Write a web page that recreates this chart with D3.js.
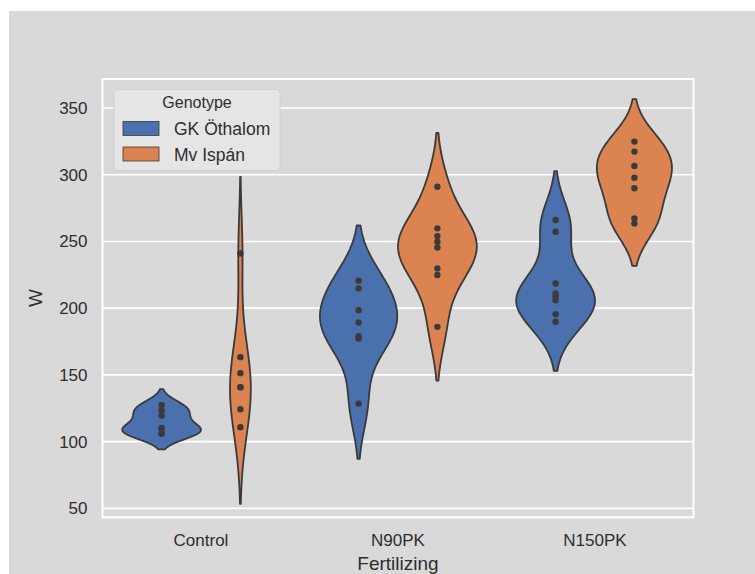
<!DOCTYPE html>
<html><head><meta charset="utf-8">
<script src="https://cdn.jsdelivr.net/npm/d3@7"></script>
<style>html,body{margin:0;padding:0;background:#fff;} svg{display:block;font-family:"Liberation Sans",Arial,sans-serif;}</style>
</head><body><svg id="chart" width="755" height="574"></svg>
<script>
// ---- data ----
const categories = ["Control", "N90PK", "N150PK"];
const genotypes = ["GK Öthalom", "Mv Ispán"];
const gkOthalom = [
  [106, 106, 110, 110, 119.5, 123.5, 127.5],
  [128.5, 177.3, 179, 189.3, 198.5, 214.8, 220.5],
  [189.8, 195.5, 206, 208.5, 211, 218.5, 257.3, 266]
];
const mvIspan = [
  [110.8, 124.3, 140.8, 140.8, 151.3, 163.3, 241],
  [186, 224.8, 229.8, 245.5, 249.8, 254, 259.8, 291],
  [263.5, 267.3, 289.8, 297.8, 306.5, 317.3, 324.8]
];
const yTicks = [50, 100, 150, 200, 250, 300, 350];
const yLimits = [43.3, 371.7];
const palette = ["#4a70ad", "#db8451"];
const xLabel = "Fertilizing", yLabel = "W", legendTitle = "Genotype";

// ---- layout ----
const svg = d3.select("#chart");
const plot = {left: 102.5, right: 693.5, top: 79, bottom: 517.3};
const bg = "#d9d9d9", ink = "#2e2e2e", edge = "#3a3a3a";

svg.append("rect").attr("x", 9).attr("y", 11).attr("width", 755 - 9).attr("height", 574 - 11).attr("fill", bg);

const x = d3.scaleBand().domain(categories).range([plot.left, plot.right]).padding(0);
const hue = d3.scaleBand().domain(genotypes).range([0.1 * x.bandwidth(), 0.9 * x.bandwidth()]);
const y = d3.scaleLinear().domain(yLimits).range([plot.bottom, plot.top]);

// grid
svg.append("g").selectAll("line").data(yTicks).join("line")
  .attr("x1", plot.left).attr("x2", plot.right)
  .attr("y1", d => y(d)).attr("y2", d => y(d))
  .attr("stroke", "#fff").attr("stroke-width", 1.6);

// frame
svg.append("rect").attr("x", plot.left).attr("y", plot.top)
  .attr("width", plot.right - plot.left).attr("height", plot.bottom - plot.top)
  .attr("fill", "none").attr("stroke", "#fff").attr("stroke-width", 2);

// KDE (gaussian, Scott bandwidth, cut = 2)
function kde(values) {
  const n = values.length;
  const bw = d3.deviation(values) * Math.pow(n, -1 / 5);
  const lo = d3.min(values) - 2 * bw, hi = d3.max(values) + 2 * bw;
  return d3.range(100).map(i => {
    const v = lo + (hi - lo) * i / 99;
    const d = d3.sum(values, s => Math.exp(-0.5 * ((v - s) / bw) ** 2)) / (n * bw * Math.sqrt(2 * Math.PI));
    return {v, d};
  });
}

const series = [gkOthalom, mvIspan];
categories.forEach((cat, ci) => {
  const dens = series.map(s => kde(s[ci]));
  const maxD = d3.max(dens, arr => d3.max(arr, p => p.d));
  const w = d3.scaleLinear().domain([0, maxD]).range([0, hue.bandwidth() / 2]);
  genotypes.forEach((g, gi) => {
    const cx = x(cat) + hue(g) + hue.bandwidth() / 2;
    const area = d3.area().y(p => y(p.v)).x0(p => cx - w(p.d)).x1(p => cx + w(p.d));
    svg.append("path").datum(dens[gi]).attr("d", area)
      .attr("fill", palette[gi]).attr("stroke", edge).attr("stroke-width", 1.8)
      .attr("stroke-linejoin", "round");
    svg.append("g").selectAll("circle").data(series[gi][ci]).join("circle")
      .attr("cx", cx).attr("cy", d => y(d)).attr("r", 3.2).attr("fill", "#3a3a3a");
  });
});

// axes
const yAxis = svg.append("g").attr("transform", `translate(${plot.left},0)`)
  .call(d3.axisLeft(y).tickValues(yTicks).tickSize(0).tickPadding(15));
yAxis.select(".domain").remove();
yAxis.selectAll("text").attr("font-size", 17).attr("fill", ink).attr("font-family", "Liberation Sans, Arial, sans-serif");

const xAxis = svg.append("g").attr("transform", `translate(0,${plot.bottom})`)
  .call(d3.axisBottom(x).tickSize(0));
xAxis.select(".domain").remove();
xAxis.selectAll("text").attr("y", 29).attr("dy", 0).attr("font-size", 17).attr("fill", ink)
  .attr("font-family", "Liberation Sans, Arial, sans-serif");

svg.append("text").attr("x", (plot.left + plot.right) / 2).attr("y", 569.5)
  .attr("text-anchor", "middle").attr("font-size", 19).attr("fill", ink).text(xLabel);
svg.append("text").attr("transform", `translate(42,${(plot.top + plot.bottom) / 2}) rotate(-90)`)
  .attr("text-anchor", "middle").attr("font-size", 19).attr("fill", ink).text(yLabel);

// legend
const lg = svg.append("g");
lg.append("rect").attr("x", 114).attr("y", 89.5).attr("width", 166).attr("height", 81)
  .attr("rx", 4).attr("fill", "#e5e5e5").attr("stroke", "#cfcfcf").attr("stroke-width", 1);
lg.append("text").attr("x", 197).attr("y", 108).attr("text-anchor", "middle")
  .attr("font-size", 16).attr("fill", ink).text(legendTitle);
genotypes.forEach((g, gi) => {
  const yy = 121.5 + gi * 25.5;
  lg.append("rect").attr("x", 123).attr("y", yy).attr("width", 36).attr("height", 14)
    .attr("fill", palette[gi]).attr("stroke", edge).attr("stroke-width", 0.8);
  lg.append("text").attr("x", 174).attr("y", yy + 13.5).attr("font-size", 17.5).attr("fill", ink).text(g);
});
</script></body></html>
